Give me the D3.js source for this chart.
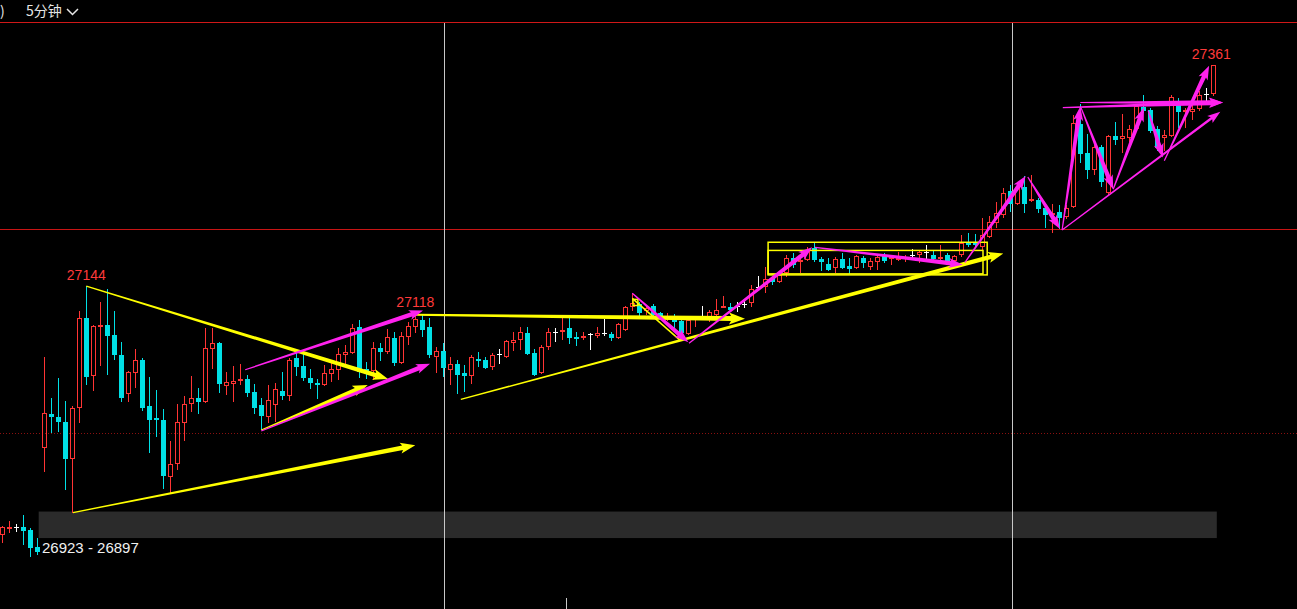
<!DOCTYPE html>
<html><head><meta charset="utf-8">
<script src="https://cdn.jsdelivr.net/npm/d3@7/dist/d3.min.js"></script>
<style>html,body{margin:0;padding:0;background:#000;overflow:hidden}</style>
</head><body>
<svg id="c" width="1297" height="609"></svg>
<script>
// ---- candle data (5-minute bars) ----
const opens  = [26900,26907,26908,26908,26905,26888,26985,27019,27016,27011,26975,27025,27113,27056,27104,27106,27096,27076,27038,27059,
27072,27026,27015,27013,26957,26970,27010,27028,27034,27030,27082,27088,27046,27048,27051,27053,27040,27027,27016,27027,
27041,27036,27074,27066,27054,27049,27047,27058,27062,27076,27078,27104,27063,27061,27083,27079,27093,27069,27094,27104,
27111,27104,27075,27080,27062,27068,27059,27056,27073,27072,27065,27077,27075,27088,27091,27098,27078,27059,27084,27099,
27099,27103,27094,27093,27097,27095,27098,27097,27093,27101,27124,27126,27120,27125,27118,27113,27115,27110,27097,27113,
27115,27114,27116,27124,27124,27125,27126,27127,27143,27143,27152,27148,27157,27172,27168,27170,27181,27171,27166,27162,
27171,27164,27162,27172,27163,27168,27174,27171,27171,27172,27175,27175,27177,27175,27171,27175,27169,27175,27186,27186,
27182,27192,27206,27214,27237,27225,27241,27227,27228,27221,27214,27217,27212,27222,27303,27275,27258,27280,27235,27291,
27288,27289,27298,27320,27317,27298,27289,27291,27322,27315,27315,27318,27332,27332];
const highs  = [26909,26914,26911,26920,26907,26897,27075,27034,27054,27031,27026,27120,27144,27106,27128,27141,27120,27089,27061,27082,
27074,27055,27042,27024,26992,27028,27036,27056,27044,27103,27103,27089,27060,27066,27068,27057,27048,27034,27047,27049,
27060,27074,27079,27078,27063,27053,27067,27072,27083,27086,27107,27111,27070,27089,27088,27102,27099,27099,27109,27118,
27117,27113,27084,27088,27075,27072,27067,27076,27079,27075,27078,27082,27091,27099,27104,27104,27082,27086,27103,27103,
27113,27115,27099,27099,27098,27104,27112,27099,27108,27125,27137,27128,27125,27126,27119,27118,27117,27111,27113,27115,
27125,27121,27131,27134,27127,27128,27129,27145,27154,27163,27153,27158,27175,27176,27173,27182,27186,27173,27172,27173,
27176,27172,27175,27174,27172,27174,27176,27174,27177,27175,27180,27178,27184,27178,27184,27176,27175,27194,27196,27195,
27211,27213,27226,27240,27243,27245,27252,27253,27230,27223,27225,27224,27224,27312,27323,27293,27282,27282,27292,27305,
27313,27302,27323,27331,27319,27301,27297,27331,27328,27319,27327,27335,27338,27361];
const lows   = [26892,26902,26903,26890,26878,26880,26962,27000,27001,26944,26922,27010,27047,27041,27066,27057,27072,27030,27030,27044,
27022,26980,26996,26945,26941,26964,26992,27021,27019,27029,27063,27039,27037,27030,27047,27035,27019,27003,27010,27011,
27032,27031,27056,27051,27043,27033,27046,27050,27052,27065,27077,27054,27053,27052,27071,27077,27066,27068,27086,27098,
27094,27074,27059,27055,27047,27038,27040,27048,27065,27063,27062,27068,27074,27080,27081,27076,27056,27058,27081,27089,
27091,27087,27085,27091,27081,27093,27095,27090,27092,27100,27120,27115,27116,27114,27112,27110,27103,27094,27096,27104,
27112,27109,27115,27123,27120,27119,27123,27124,27142,27137,27145,27147,27153,27162,27157,27169,27168,27159,27159,27157,
27161,27156,27161,27162,27160,27160,27167,27165,27169,27168,27170,27167,27170,27167,27167,27165,27163,27173,27182,27182,
27179,27191,27201,27211,27217,27224,27216,27226,27216,27201,27196,27200,27210,27221,27265,27249,27253,27241,27233,27282,
27275,27285,27297,27314,27294,27276,27276,27290,27299,27299,27307,27316,27323,27330];
const closes = [26908,26908,26908,26904,26887,26883,27020,27016,27011,26975,27025,27113,27055,27105,27106,27095,27076,27034,27060,27072,
27025,27013,27013,26958,26970,27011,27028,27034,27030,27083,27088,27048,27050,27051,27053,27039,27025,27017,27032,27043,
27036,27072,27065,27054,27049,27047,27059,27063,27077,27079,27103,27060,27060,27083,27079,27094,27069,27095,27105,27112,
27101,27076,27080,27064,27068,27057,27056,27075,27071,27064,27076,27077,27090,27091,27099,27077,27057,27084,27099,27099,
27101,27093,27092,27095,27097,27098,27098,27093,27107,27124,27127,27118,27123,27116,27114,27115,27109,27098,27111,27114,
27115,27119,27121,27125,27121,27125,27126,27141,27143,27151,27148,27155,27172,27165,27170,27179,27170,27168,27160,27171,
27162,27161,27174,27167,27169,27173,27169,27173,27172,27173,27175,27177,27177,27171,27173,27169,27174,27186,27184,27184,
27194,27207,27216,27235,27225,27241,27225,27229,27220,27214,27216,27211,27221,27304,27274,27258,27280,27246,27291,27287,
27291,27298,27321,27316,27296,27279,27292,27329,27315,27317,27318,27331,27332,27361];

// ---- price labels / zone ----
const peakLabels = [[12, 27144], [59, 27118], [173, 27361]];
const zoneLow = 26897, zoneHigh = 26923;
const zoneSpan = [5.2, 173.5];
const zoneText = "26923 - 26897";
const solidLevel = 27200, dottedLevel = 27000;
const sessionBreaks = [63.1, 144.2];
const headerText = "5分钟";

// ---- drawn annotations: [barIndex0, price0, barIndex1, price1] ----
const yellowArrows = [[12,27144,55.1,27053],[10.1,26922,59,26988],[37,27003,52.2,27047],[65.5,27033,143,27176]];
const yellowFlatArrow = [[59,27116,106.1,27112]];
const yellowThinLines = [[90,27132,96.8,27091]];
const magentaArrows = [[34.7,27062,60.1,27120],[37,27002,61.1,27068],[90,27137,98,27089],[98.1,27088,115.7,27182],
 [116.1,27182,137.2,27165],[137.5,27167,146.2,27252],[146.5,27251,151.1,27200],[151.4,27199,154,27320],
 [154.1,27319,158.7,27239],[158.7,27239,163.1,27319],[163.7,27316,165.8,27270],[166,27267,172.4,27360],
 [151.5,27319,174.4,27324],[154,27324,174.4,27324]];
const magentaThinArrows = [[151.4,27199,174,27315]];
const yellowBoxes = [[109.4,27187,140.7,27155],[109.4,27179,140.1,27156],[90.1,27131,90.8,27125]];

const W = 1297, H = 609;
const svg = d3.select("#c");
const n = opens.length;
const x = d3.scaleLinear().domain([0, 173]).range([2.3, 1213.3]);
const y = d3.scaleLinear().domain([27000, 27200]).range([433, 229]);
const RED = "#ff3434", CYAN = "#00e0e6", YEL = "#ffff00", MAG = "#ff22ee";

// zone band
svg.append("rect").attr("x", x(zoneSpan[0])).attr("width", x(zoneSpan[1]) - x(zoneSpan[0]))
  .attr("y", y(zoneHigh)).attr("height", y(zoneLow) - y(zoneHigh)).attr("fill", "#2b2b2b");

// levels
svg.append("line").attr("x1",0).attr("x2",W).attr("y1",22.5).attr("y2",22.5).attr("stroke","#d01818");
svg.append("line").attr("x1",0).attr("x2",W).attr("y1",Math.round(y(solidLevel))+0.5).attr("y2",Math.round(y(solidLevel))+0.5).attr("stroke","#c81414");
svg.append("line").attr("x1",0).attr("x2",W).attr("y1",Math.round(y(dottedLevel))+0.5).attr("y2",Math.round(y(dottedLevel))+0.5)
  .attr("stroke","#8a1010").attr("stroke-dasharray","1,2");

// session lines
sessionBreaks.forEach(b => {
  const xx = Math.round(x(b)) + 0.5;
  svg.append("line").attr("x1",xx).attr("x2",xx).attr("y1",23).attr("y2",H).attr("stroke","#c8c8c8");
});
svg.append("line").attr("x1",566.5).attr("x2",566.5).attr("y1",598).attr("y2",H).attr("stroke","#c8c8c8");

// header
svg.append("text").attr("x",0).attr("y",16).attr("fill","#e6e6e6").attr("font-family","'Noto Sans CJK SC','Noto Sans',sans-serif").attr("font-size",14).text(")");
svg.append("text").attr("x",26).attr("y",16).attr("fill","#e6e6e6").attr("font-family","'Noto Sans CJK SC','Noto Sans',sans-serif").attr("font-size",14).text(headerText);
svg.append("path").attr("d","M67,9 L72.5,14.5 L78,9").attr("fill","none").attr("stroke","#e6e6e6").attr("stroke-width",1.5);

// candles
const g = svg.append("g");
for (let i = 0; i < n; i++) {
  const c = Math.round(x(i));
  const o = opens[i], cl = closes[i], hi = highs[i], lo = lows[i];
  const yH = Math.round(y(hi)), yL = Math.round(y(lo));
  const yT = Math.round(y(Math.max(o, cl))), yB = Math.round(y(Math.min(o, cl)));
  if (cl > o) {
    g.append("line").attr("x1",c+0.5).attr("x2",c+0.5).attr("y1",yH).attr("y2",yT).attr("stroke",RED);
    g.append("line").attr("x1",c+0.5).attr("x2",c+0.5).attr("y1",yB).attr("y2",yL).attr("stroke",RED);
    g.append("rect").attr("x",c-1.5).attr("width",4).attr("y",yT+0.5).attr("height",Math.max(1,yB-yT-1))
      .attr("fill","none").attr("stroke",RED);
  } else if (cl < o) {
    g.append("line").attr("x1",c+0.5).attr("x2",c+0.5).attr("y1",yH).attr("y2",yL).attr("stroke",CYAN);
    g.append("rect").attr("x",c-2).attr("width",5).attr("y",yT).attr("height",Math.max(2,yB-yT)).attr("fill",CYAN);
  } else {
    g.append("line").attr("x1",c+0.5).attr("x2",c+0.5).attr("y1",yH).attr("y2",yL).attr("stroke","#ffffff");
    g.append("line").attr("x1",c-2).attr("x2",c+3).attr("y1",yT+0.5).attr("y2",yT+0.5).attr("stroke","#ffffff");
  }
}

// annotation helpers
function taper(a, color, w0, w1, hl, hw, head) {
  const p0 = [x(a[0]), y(a[1])], p1 = [x(a[2]), y(a[3])];
  const dx = p1[0]-p0[0], dy = p1[1]-p0[1], L = Math.hypot(dx, dy);
  const ux = dx/L, uy = dy/L, nx = -uy, ny = ux;
  const hL = head ? Math.min(hl, L*0.5) : 0;
  const s = [p1[0]-ux*hL, p1[1]-uy*hL];
  let pts;
  if (head) {
    pts = [[p0[0]+nx*w0/2, p0[1]+ny*w0/2],[s[0]+nx*w1/2, s[1]+ny*w1/2],[s[0]-ux*2+nx*hw/2, s[1]-uy*2+ny*hw/2],
      [p1[0],p1[1]],[s[0]-ux*2-nx*hw/2, s[1]-uy*2-ny*hw/2],[s[0]-nx*w1/2, s[1]-ny*w1/2],[p0[0]-nx*w0/2, p0[1]-ny*w0/2]];
  } else {
    pts = [[p0[0]+nx*w0/2, p0[1]+ny*w0/2],[p1[0]+nx*w1/2, p1[1]+ny*w1/2],[p1[0]-nx*w1/2, p1[1]-ny*w1/2],[p0[0]-nx*w0/2, p0[1]-ny*w0/2]];
  }
  svg.append("path").attr("d", d3.line()(pts) + "Z").attr("fill", color);
}
yellowBoxes.forEach(b => {
  svg.append("rect").attr("x", x(b[0])).attr("y", y(b[1])).attr("width", x(b[2]) - x(b[0])).attr("height", y(b[3]) - y(b[1]))
    .attr("fill","none").attr("stroke",YEL).attr("stroke-width",1.5);
});
yellowThinLines.forEach(a => taper(a, YEL, 1.5, 1.5, 0, 0, false));
yellowArrows.forEach(a => taper(a, YEL, 1.2, 4.5, 13, 11, true));
yellowFlatArrow.forEach(a => taper(a, YEL, 2, 5, 14, 12, true));
magentaArrows.forEach(a => taper(a, MAG, 1.2, 4.5, 12, 10, true));
magentaThinArrows.forEach(a => taper(a, MAG, 1.2, 2.5, 11, 9, true));

// labels
peakLabels.forEach(([i, p]) => {
  let tx = x(i);
  if (i === n - 1) tx = x(i) - 2;
  svg.append("text").attr("x", tx).attr("y", y(p) - 6).attr("text-anchor","middle")
    .attr("fill","#ff3a3a").attr("font-family","'Liberation Sans',Arial,sans-serif").attr("font-size",14).text(p);
});
svg.append("text").attr("x", 42).attr("y", y(zoneLow) + 15).attr("fill","#f0f0f0")
  .attr("font-family","'Liberation Sans',Arial,sans-serif").attr("font-size",15).text(zoneText);
</script>
</body></html>
